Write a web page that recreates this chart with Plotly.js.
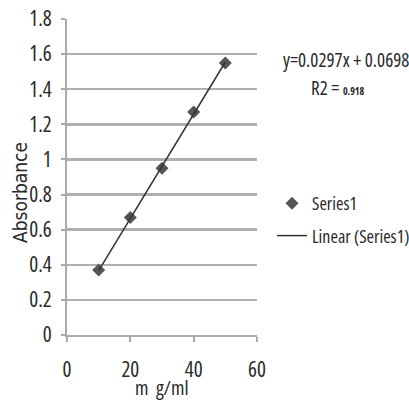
<!DOCTYPE html>
<html><head><meta charset="utf-8">
<script src="https://cdn.plot.ly/plotly-3.0.1.min.js"></script>
<style>html,body{margin:0;padding:0;background:#fff;} text{font-stretch:condensed;}</style>
</head><body><div id="chart" style="width:409px;height:402px;"></div>
<script>
const concentration = [10, 20, 30, 40, 50];
const absorbance = [0.37, 0.67, 0.95, 1.27, 1.55];
const trendX = [10, 50];
const trendY = [0.367, 1.555];
const seriesName = "Series1";
const trendName = "Linear (Series1)";
const equationText = "y=0.0297x + 0.0698";
const r2Label = "R2 = ";
const r2Text = "0.918";
const xTitle = "m  g/ml";
const yTitle = "Absorbance";

const cond = "'Open Sans', sans-serif";
const txt = '#2a2a2a';

const traces = [
  {x: concentration, y: absorbance, type: 'scatter', mode: 'markers', name: seriesName,
   legendgroup: 'a', marker: {symbol: 'diamond', size: 10, color: '#555555'}},
  {x: trendX, y: trendY, type: 'scatter', mode: 'lines', name: trendName,
   legendgroup: 'b', line: {color: '#333333', width: 1.5}}
];

const layout = {
  width: 409, height: 402,
  margin: {l: 67, r: 152, t: 19, b: 67},
  paper_bgcolor: '#fff', plot_bgcolor: '#fff',
  showlegend: true,
  font: {family: cond, color: txt, size: 19},
  xaxis: {range: [0, 60], dtick: 20, tick0: 0, showgrid: false, zeroline: false,
    showline: true, linecolor: '#aaa', linewidth: 2,
    ticks: 'outside', ticklen: 5, tickcolor: '#aaa', tickwidth: 2, ticklabelstandoff: 10,
    tickfont: {family: cond, size: 21, color: txt}},
  yaxis: {range: [0, 1.8], dtick: 0.2, tick0: 0, showgrid: true, gridcolor: '#b0b0b0', gridwidth: 2.5,
    zeroline: false, showline: true, linecolor: '#aaa', linewidth: 2,
    ticks: 'outside', ticklen: 4, tickcolor: '#aaa', tickwidth: 2, ticklabelstandoff: 5,
    tickfont: {family: cond, size: 21, color: txt}},
  legend: {xref: 'container', yref: 'container', x: 272 / 409, y: 1 - 185 / 402,
    xanchor: 'left', yanchor: 'top', bgcolor: 'rgba(0,0,0,0)',
    traceorder: 'grouped', tracegroupgap: 6,
    font: {family: cond, size: 18, color: txt}, itemwidth: 30},
  annotations: [
    {xref: 'paper', yref: 'paper', x: (346 - 67) / 190, y: (335 - 60) / 316, xanchor: 'center', yanchor: 'middle',
     showarrow: false, text: equationText, font: {family: cond, size: 19, color: txt}},
    {xref: 'paper', yref: 'paper', x: (338 - 67) / 190, y: (335 - 88) / 316, xanchor: 'center', yanchor: 'middle',
     showarrow: false, text: r2Label + '<b><span style="font-size:10px">' + r2Text + '</span></b>',
     font: {family: cond, size: 19, color: txt}},
    {xref: 'paper', yref: 'paper', x: (162 - 67) / 190, y: (335 - 387) / 316, xanchor: 'center', yanchor: 'middle',
     showarrow: false, text: xTitle, font: {family: cond, size: 20, color: txt}},
    {xref: 'paper', yref: 'paper', x: (20 - 67) / 190, y: (335 - 193) / 316, xanchor: 'center', yanchor: 'middle',
     showarrow: false, textangle: -90, text: yTitle, font: {family: "'DejaVu Sans', sans-serif", size: 19, color: txt}}
  ]
};

Plotly.newPlot('chart', traces, layout, {displayModeBar: false, staticPlot: true});
</script></body></html>
